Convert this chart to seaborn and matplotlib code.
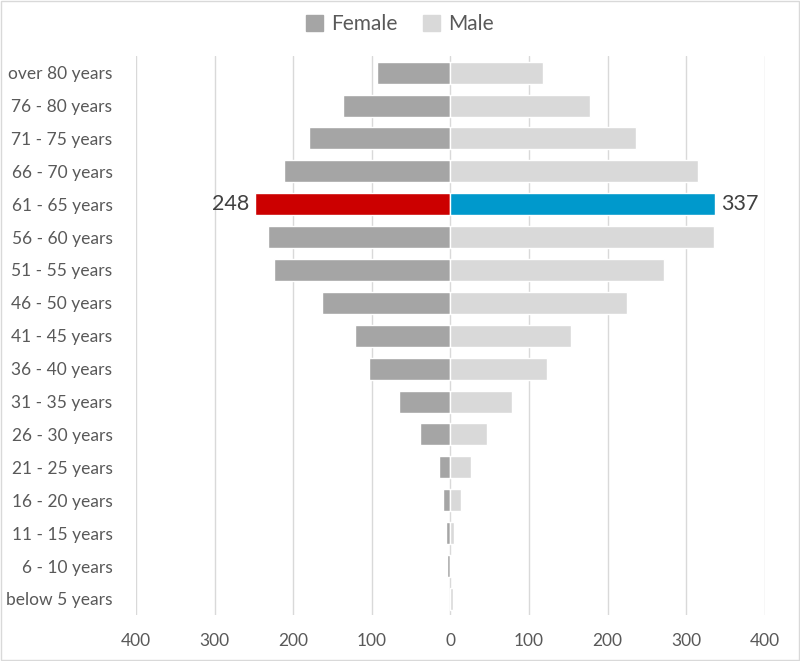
import matplotlib
matplotlib.use("Agg")
import matplotlib.pyplot as plt
import seaborn as sns
import pandas as pd
from matplotlib.ticker import FuncFormatter
from matplotlib.patches import Patch, Rectangle

categories = ["over 80 years", "76 - 80 years", "71 - 75 years", "66 - 70 years",
              "61 - 65 years", "56 - 60 years", "51 - 55 years", "46 - 50 years",
              "41 - 45 years", "36 - 40 years", "31 - 35 years", "26 - 30 years",
              "21 - 25 years", "16 - 20 years", "11 - 15 years", "6 - 10 years",
              "below 5 years"]
female = [94, 137, 180, 212, 248, 232, 225, 163, 122, 104, 66, 39, 15, 9, 6, 4, 1]
male = [118, 177, 236, 315, 337, 336, 272, 225, 153, 123, 79, 47, 26, 14, 4, 1, 3]
highlight = "61 - 65 years"
ticks = [-400, -300, -200, -100, 0, 100, 200, 300, 400]

sns.set_theme(style="white")
plt.rcParams['font.family'] = ['Lato', 'DejaVu Sans']

C_F, C_M = "#A5A5A5", "#D9D9D9"
C_HF, C_HM = "#CC0000", "#0099CC"
TXT = "#595959"

df_f = pd.DataFrame({"age": categories, "value": [-v for v in female]})
df_m = pd.DataFrame({"age": categories, "value": male})

fig = plt.figure(figsize=(8, 6.61), dpi=100)
ax = fig.add_axes([0.17, 0.069, 0.786, 0.846])

for x in ticks:
    ax.axvline(x, color="#D9D9D9", lw=1, zorder=0)

sns.barplot(data=df_f, x="value", y="age", order=categories, color=C_F,
            orient="h", width=0.67, saturation=1, ax=ax, zorder=2)
sns.barplot(data=df_m, x="value", y="age", order=categories, color=C_M,
            orient="h", width=0.67, saturation=1, ax=ax, zorder=2)

n = len(categories)
hi = categories.index(highlight)
patches = ax.patches
patches[hi].set_facecolor(C_HF)
patches[n + hi].set_facecolor(C_HM)

ax.text(-female[hi] - 8, hi, str(female[hi]), ha="right", va="center",
        fontsize=15.5, color="#404040")
ax.text(male[hi] + 8, hi, str(male[hi]), ha="left", va="center",
        fontsize=15.5, color="#404040")

ax.set_xlim(-400, 400)
ax.set_ylim(n - 0.5, -0.5)
ax.set_xticks(ticks)
ax.xaxis.set_major_formatter(FuncFormatter(lambda v, p: f"{abs(int(v))}"))
ax.set_xlabel("")
ax.set_ylabel("")
ax.tick_params(axis="both", length=0, labelsize=12.5, labelcolor=TXT)
ax.tick_params(axis="x", pad=13)
ax.tick_params(axis="y", pad=17)
for s in ax.spines.values():
    s.set_visible(False)

handles = [Patch(color=C_F, label="Female"), Patch(color=C_M, label="Male")]
fig.legend(handles=handles, loc="center", bbox_to_anchor=(0.5, 0.963), ncol=2,
           frameon=False, fontsize=15, labelcolor=TXT, handlelength=0.8,
           handleheight=0.8, handletextpad=0.4, columnspacing=1.2)

fig.patches.append(Rectangle((0.001, 0.001), 0.998, 0.998, transform=fig.transFigure,
                             fill=False, edgecolor="#D9D9D9", lw=1))

fig.savefig("out.png", dpi=100)
